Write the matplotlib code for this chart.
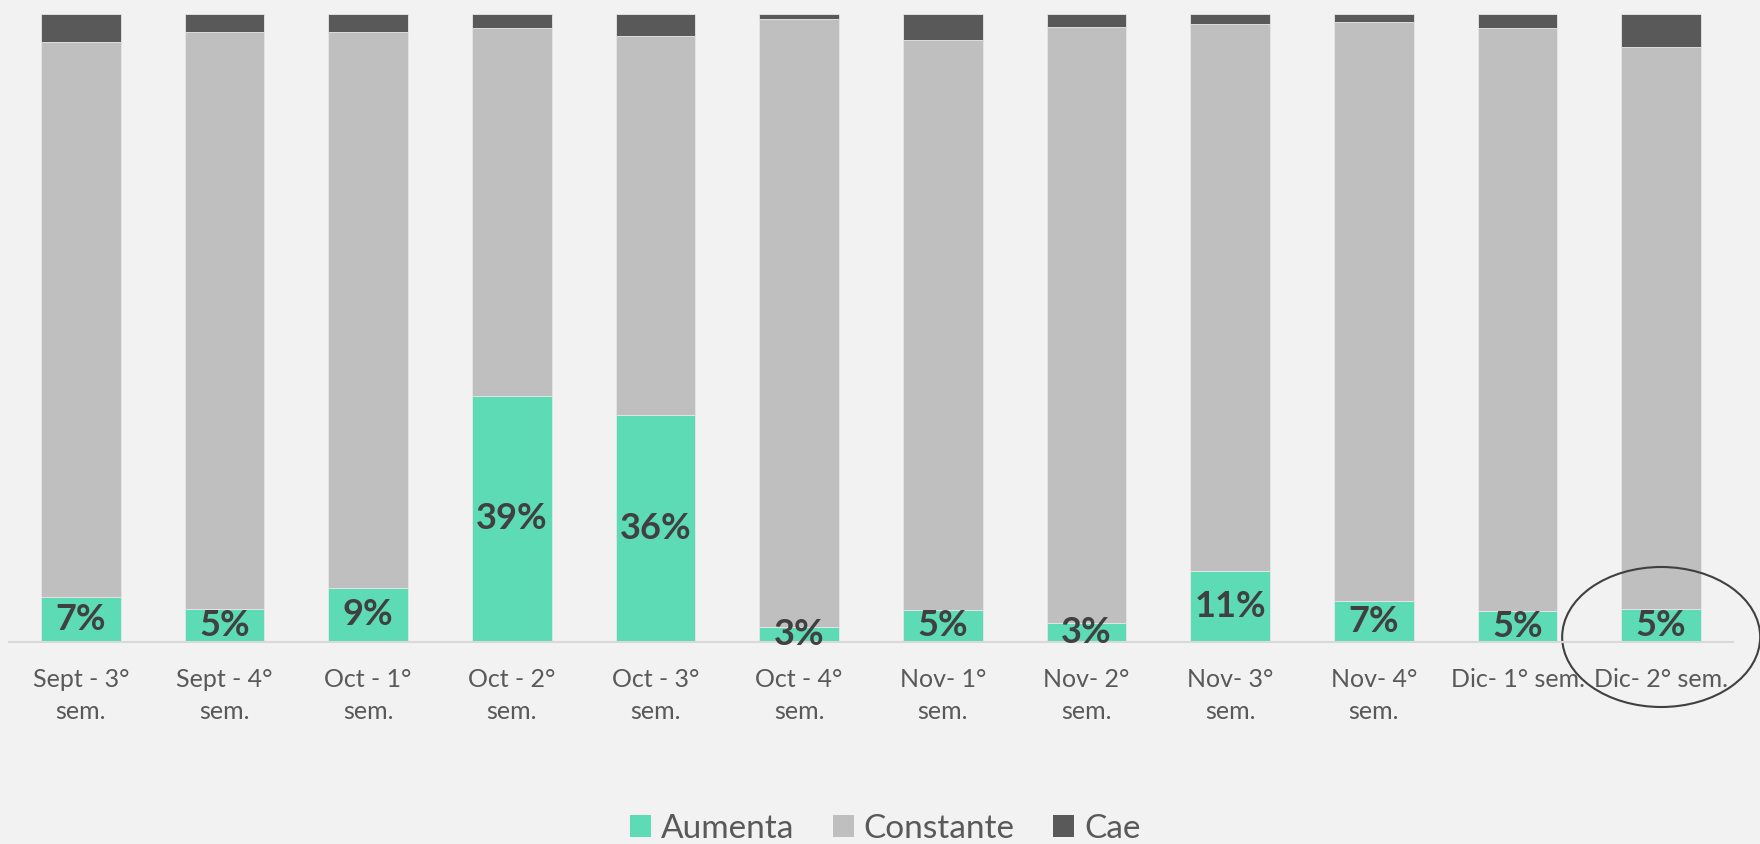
import matplotlib
matplotlib.use("Agg")
import matplotlib.pyplot as plt
import numpy as np
from matplotlib.patches import Patch, Ellipse

categories = ["Sept - 3°\nsem.", "Sept - 4°\nsem.", "Oct - 1°\nsem.", "Oct - 2°\nsem.",
              "Oct - 3°\nsem.", "Oct - 4°\nsem.", "Nov- 1°\nsem.", "Nov- 2°\nsem.",
              "Nov- 3°\nsem.", "Nov- 4°\nsem.", "Dic- 1° sem.", "Dic- 2° sem."]
aumenta = [7.2, 5.3, 8.6, 39.2, 36.1, 2.4, 5.1, 3.1, 11.3, 6.6, 5.0, 5.3]
cae = [4.4, 2.8, 2.8, 2.3, 3.5, 0.8, 4.1, 2.0, 1.6, 1.3, 2.2, 5.2]
constante = [100 - a - c for a, c in zip(aumenta, cae)]
labels = ["7%", "5%", "9%", "39%", "36%", "3%", "5%", "3%", "11%", "7%", "5%", "5%"]
series_names = ["Aumenta", "Constante", "Cae"]

c_aum, c_con, c_cae = "#5cdbb4", "#bfbfbf", "#595959"
bg = "#f2f2f2"

plt.rcParams['font.family'] = ['Lato', 'DejaVu Sans']

fig = plt.figure(figsize=(17.6, 8.44), dpi=100, facecolor=bg)
ax = fig.add_axes([9/1760, 1-642/844, 1724/1760, 628/844])
ax.set_facecolor(bg)

x = np.arange(len(categories))
w = 0.555
b1 = ax.bar(x, aumenta, w, color=c_aum, edgecolor="#e6e6e6", linewidth=0.6)
b2 = ax.bar(x, constante, w, bottom=aumenta, color=c_con, edgecolor="#e6e6e6", linewidth=0.6)
b3 = ax.bar(x, cae, w, bottom=[a + c for a, c in zip(aumenta, constante)], color=c_cae,
            edgecolor="#e6e6e6", linewidth=0.6)

ax.bar_label(b1, labels=labels, label_type='center', fontsize=26, fontweight='bold',
             color="#404040")

ax.set_xlim(-0.5, len(categories) - 0.5)
ax.set_ylim(0, 100)
ax.set_xticks(x)
ax.set_xticklabels(categories, fontsize=18, color="#595959", linespacing=1.45)
ax.tick_params(axis='x', length=0, pad=19)
ax.set_yticks([])
for s in ["left", "right", "top"]:
    ax.spines[s].set_visible(False)
ax.spines["bottom"].set_color("#d9d9d9")
ax.spines["bottom"].set_linewidth(1.5)

# highlight ellipse around the last category
px_per_x = 1724 / len(categories)
px_per_y = 628 / 100
ell = Ellipse((x[-1], 5 / px_per_y), width=198 / px_per_x, height=140 / px_per_y,
              fill=False, edgecolor="#404040", linewidth=1.5, clip_on=False)
ax.add_patch(ell)

handles = [Patch(facecolor=c, edgecolor='none') for c in (c_aum, c_con, c_cae)]
fig.legend(handles, series_names, loc='center', bbox_to_anchor=(0.503, 1-829/844),
           ncol=3, frameon=False, fontsize=24, labelcolor="#595959",
           handlelength=0.63, handleheight=0.63, handletextpad=0.3, columnspacing=1.15)

fig.savefig("out.png", dpi=100, facecolor=bg)
